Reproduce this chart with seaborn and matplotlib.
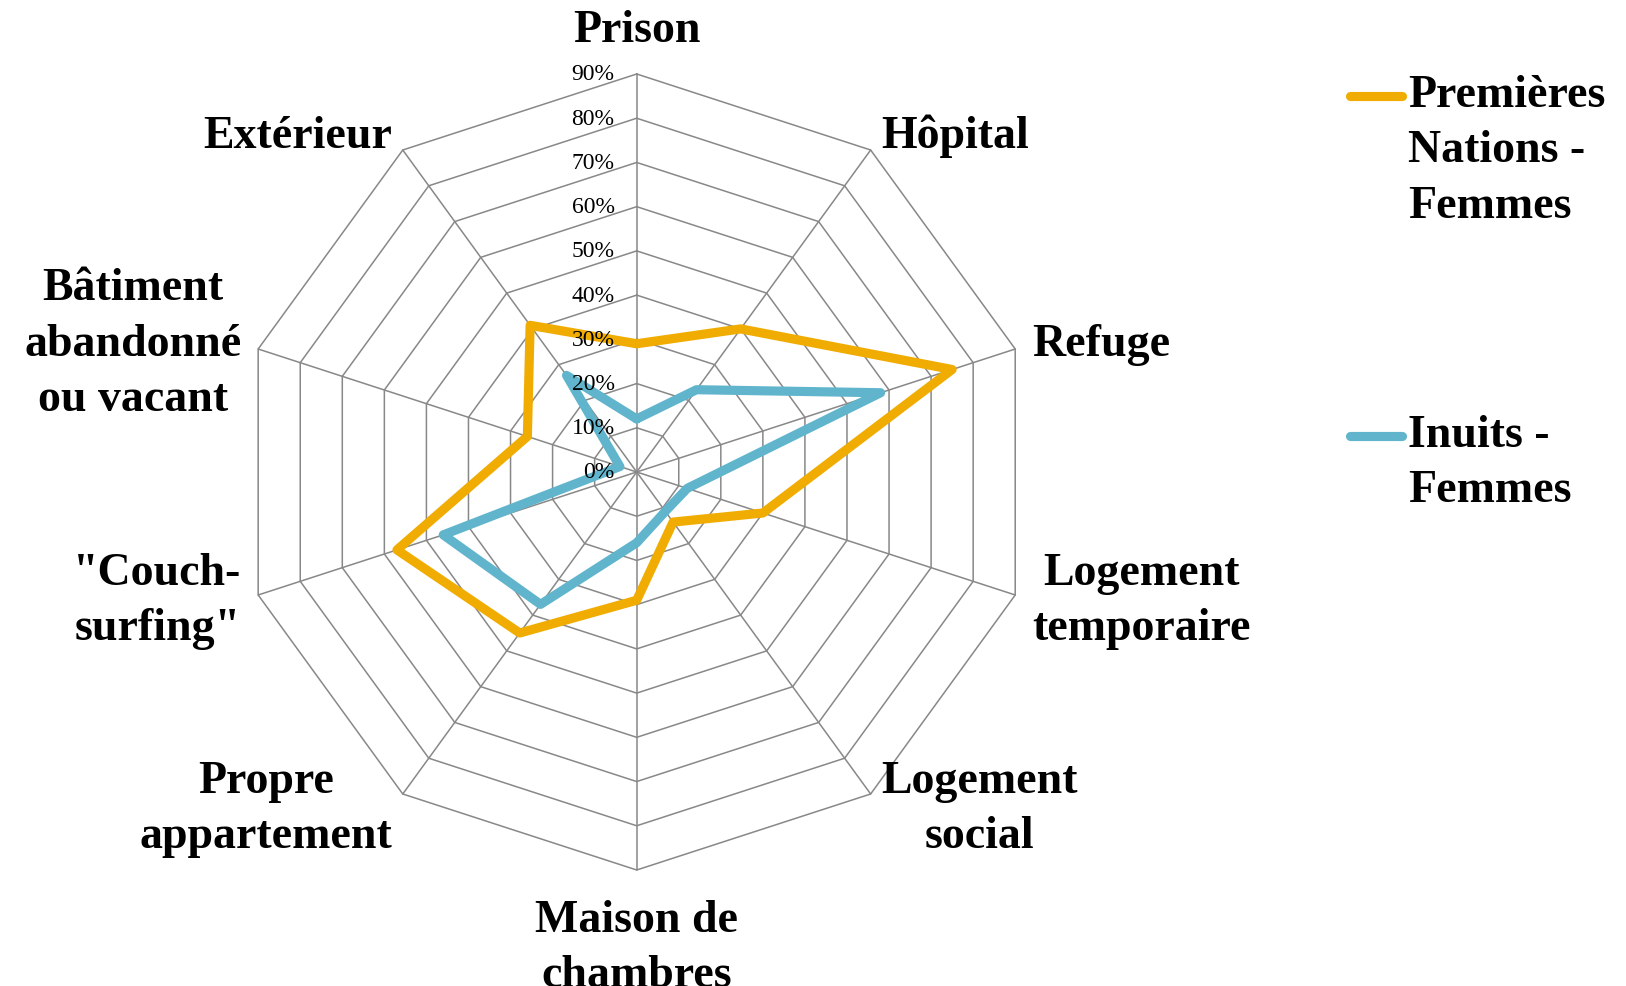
import numpy as np
import pandas as pd
import matplotlib
matplotlib.use("Agg")
import matplotlib.pyplot as plt
import seaborn as sns

# Data (percent of women, by place of residence)
categories = ["Prison", "Hôpital", "Refuge", "Logement\ntemporaire", "Logement\nsocial",
              "Maison de\nchambres", "Propre\nappartement", "\"Couch-\nsurfing\"",
              "Bâtiment\nabandonné\nou vacant", "Extérieur"]
premieres_nations = [29, 40, 75, 30, 14, 29, 45, 57, 26, 41]
inuits = [12, 23, 58, 12, 11, 16, 37, 46, 4, 27]
series_names = ["Premières\nNations -\nFemmes", "Inuits -\nFemmes"]
levels = [0, 10, 20, 30, 40, 50, 60, 70, 80, 90]

colors = ["#F0AC00", "#60B5CC"]
grid_color = "#888888"

sns.set_style("white")
plt.rcParams['font.family'] = ['Liberation Serif', 'DejaVu Serif']
plt.rcParams['text.color'] = 'black'

n = len(categories)
angles = np.arange(n) * 2 * np.pi / n   # clockwise from top

# build long table, closing each polygon
rows = []
for name, vals in zip(series_names, [premieres_nations, inuits]):
    for i in list(range(n)) + [0]:
        rows.append({"serie": name,
                     "x": vals[i] * np.sin(angles[i]),
                     "y": vals[i] * np.cos(angles[i])})
df = pd.DataFrame(rows)

W, H = 1626, 987
fig = plt.figure(figsize=(W / 100, H / 100), dpi=100)
ax = fig.add_axes([0, 0, 1, 1])

# scale: pixels per percent, center in pixels
cx, cy = 636.7, 473.0
ppu = 398.0 / 90
ax.set_xlim(-cx / ppu, (W - cx) / ppu)
ax.set_ylim(-(H - cy) / ppu, cy / ppu)
ax.axis('off')

# polygon grid
rmax = levels[-1]
for lv in levels[1:]:
    gx = [lv * np.sin(a) for a in angles] + [0]
    gy = [lv * np.cos(a) for a in angles] + [lv]
    ax.plot(gx, gy, color=grid_color, lw=1.1, zorder=1)
for a in angles:
    ax.plot([0, rmax * np.sin(a)], [0, rmax * np.cos(a)], color=grid_color, lw=1.1, zorder=1)

# data lines
sns.lineplot(data=df, x="x", y="y", hue="serie", palette=colors, sort=False,
             estimator=None, units="serie", linewidth=6.6, legend=False, ax=ax, zorder=3)
for line in ax.lines[-2:]:
    line.set_solid_joinstyle('round')
    line.set_solid_capstyle('round')

# tick labels
for lv in levels:
    ax.text(-5.0, lv, f"{lv}%", ha='right', va='center', fontsize=17, zorder=4)

# category labels
for cat, a in zip(categories, angles):
    s, c = np.sin(a), np.cos(a)
    if abs(s) < 0.1:
        r = 95.3 if c > 0 else 96.5
        ha = 'center'
        va = 'bottom' if c > 0 else 'top'
    else:
        r = 94
        ha = 'left' if s > 0 else 'right'
        va = 'center'
    ax.text(r * s, r * c, cat, ha=ha, va=va, multialignment='center',
            fontsize=33, fontweight='bold', linespacing=1.42, zorder=4)

# legend
for name, col, ly in zip(series_names, colors, [96.7, 436.7]):
    fig.add_artist(plt.Line2D([1350 / W, 1402 / W], [1 - ly / H, 1 - ly / H], color=col,
                              lw=6.6, solid_capstyle='round', transform=fig.transFigure))
    fig.text(1408 / W, 1 - (ly - 22) / H, name, ha='left', va='top',
             fontsize=33, fontweight='bold', linespacing=1.42)

fig.savefig("out.png", dpi=100)
